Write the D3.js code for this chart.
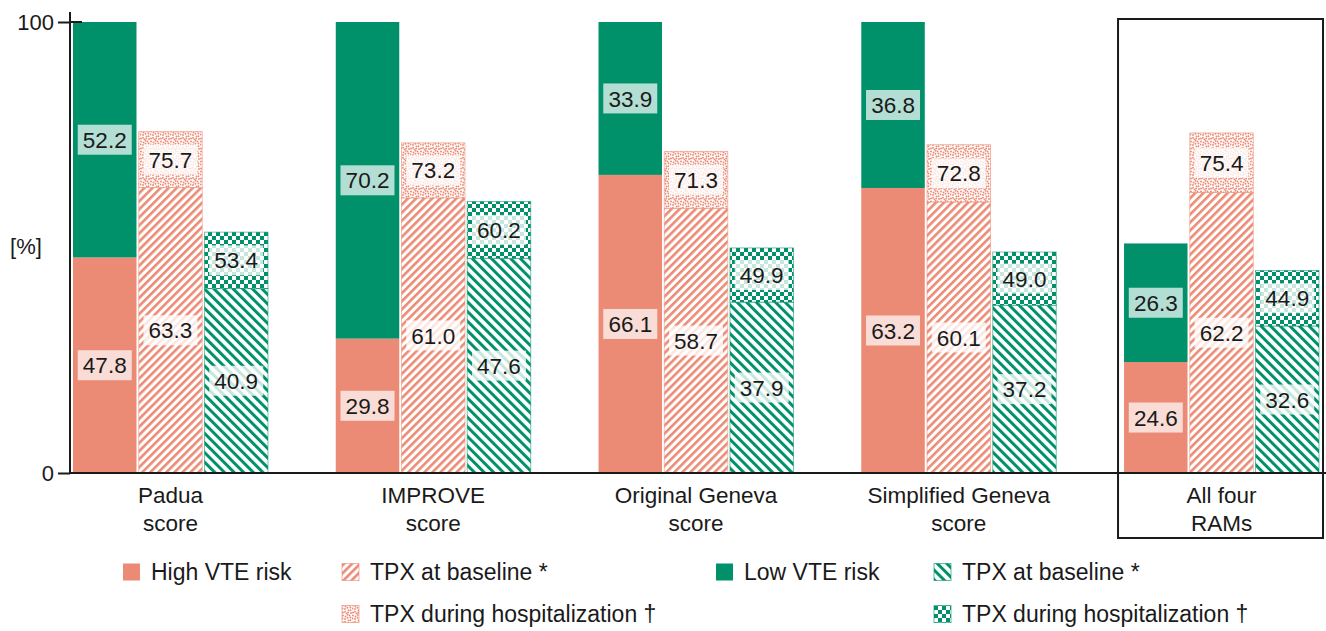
<!DOCTYPE html>
<html>
<head>
<meta charset="utf-8">
<script src="https://cdn.jsdelivr.net/npm/d3@7"></script>
<style>
    body { margin: 0; background: #fff; }
    svg  { display: block; font-family: "Liberation Sans", Arial, sans-serif; }
</style>
</head>
<body>
<div id="chart"></div>
<script>
// Categories (risk assessment models) and their two-line axis labels
const categories = ["Padua score", "IMPROVE score", "Original Geneva score", "Simplified Geneva score", "All four RAMs"];
const categoryLines = [
    ["Padua", "score"],
    ["IMPROVE", "score"],
    ["Original Geneva", "score"],
    ["Simplified Geneva", "score"],
    ["All four", "RAMs"]
];

// Share of patients in each risk group [%]
const highRisk = [47.8, 29.8, 66.1, 63.2, 24.6];
const lowRisk  = [52.2, 70.2, 33.9, 36.8, 26.3];

// Thromboprophylaxis (TPX) in high-risk patients [%]
const highTpxBaseline = [63.3, 61.0, 58.7, 60.1, 62.2];
const highTpxHosp     = [75.7, 73.2, 71.3, 72.8, 75.4];

// Thromboprophylaxis (TPX) in low-risk patients [%]
const lowTpxBaseline = [40.9, 47.6, 37.9, 37.2, 32.6];
const lowTpxHosp     = [53.4, 60.2, 49.9, 49.0, 44.9];

const yTicks = [0, 100];

const legendRow1 = ["High VTE risk", "TPX at baseline *", "Low VTE risk", "TPX at baseline *"];
const legendRow2 = ["TPX during hospitalization \u2020", "TPX during hospitalization \u2020"];

const SALMON = "#ec8b75";
const GREEN  = "#00916b";
const INK    = "#1a1a1a";

const width = 1326, height = 631;

const svg = d3.select("#chart").append("svg")
    .attr("width", width).attr("height", height);

/* ── fill patterns ─────────────────────────────────────────── */
const defs = svg.append("defs");

function stripes(id, color, angle, period, thick) {
    const p = defs.append("pattern").attr("id", id)
        .attr("patternUnits", "userSpaceOnUse")
        .attr("width", period).attr("height", period)
        .attr("patternTransform", `rotate(${angle})`);
    p.append("rect").attr("width", period).attr("height", period).attr("fill", "#fff");
    p.append("rect").attr("width", thick).attr("height", period).attr("fill", color);
}
stripes("hatchSalmon", SALMON, 45, 5.7, 2.6);
stripes("hatchGreen", GREEN, -45, 6.8, 3);

const dots = defs.append("pattern").attr("id", "dotsSalmon")
    .attr("patternUnits", "userSpaceOnUse").attr("width", 10).attr("height", 10);
dots.append("rect").attr("width", 10).attr("height", 10).attr("fill", "#fff");
[[1, 1.5], [5.5, 0.8], [8.5, 3.5], [3, 5], [6.5, 6.5], [1, 8.5], [9, 9], [4.5, 9.5],
 [0.5, 4.5], [3.5, 2.5], [7.5, 1.5], [5.5, 3.8], [8.5, 6.2], [3, 7.8], [6.2, 8.6]]
    .forEach(([cx, cy]) => dots.append("circle")
        .attr("cx", cx).attr("cy", cy).attr("r", 0.95).attr("fill", SALMON));

const checks = defs.append("pattern").attr("id", "checkGreen")
    .attr("patternUnits", "userSpaceOnUse").attr("width", 8).attr("height", 8);
checks.append("rect").attr("width", 8).attr("height", 8).attr("fill", "#fff");
checks.append("rect").attr("width", 4).attr("height", 4).attr("fill", GREEN);
checks.append("rect").attr("x", 4).attr("y", 4).attr("width", 4).attr("height", 4).attr("fill", GREEN);

/* ── scales ────────────────────────────────────────────────── */
const y = d3.scaleLinear().domain([0, 100]).range([473, 22]);

const x = d3.scaleBand()
    .domain(categories)
    .range([73, 1319])
    .paddingInner(0.258)
    .paddingOuter(0);

const xBar = d3.scaleBand()
    .domain(["risk", "high", "low"])
    .range([0, x.bandwidth()])
    .paddingInner(0.034);

// one record per stacked segment
const segments = [];
categories.forEach((cat, i) => {
    segments.push(
        { cat, bar: "risk", y0: 0, y1: highRisk[i], value: highRisk[i], fill: SALMON, stroke: "none", solid: true },
        { cat, bar: "risk", y0: highRisk[i], y1: highRisk[i] + lowRisk[i], value: lowRisk[i], fill: GREEN, stroke: "none", solid: true },
        { cat, bar: "high", y0: 0, y1: highTpxBaseline[i], value: highTpxBaseline[i], fill: "url(#hatchSalmon)", stroke: SALMON },
        { cat, bar: "high", y0: highTpxBaseline[i], y1: highTpxHosp[i], value: highTpxHosp[i], fill: "url(#dotsSalmon)", stroke: SALMON },
        { cat, bar: "low", y0: 0, y1: lowTpxBaseline[i], value: lowTpxBaseline[i], fill: "url(#hatchGreen)", stroke: GREEN },
        { cat, bar: "low", y0: lowTpxBaseline[i], y1: lowTpxHosp[i], value: lowTpxHosp[i], fill: "url(#checkGreen)", stroke: GREEN }
    );
});

/* ── bars ──────────────────────────────────────────────────── */
svg.append("g").selectAll("rect")
    .data(segments).enter()
    .append("rect")
    .attr("x", d => x(d.cat) + xBar(d.bar))
    .attr("y", d => y(d.y1))
    .attr("width", xBar.bandwidth())
    .attr("height", d => y(d.y0) - y(d.y1))
    .attr("fill", d => d.fill)
    .attr("stroke", d => d.stroke)
    .attr("stroke-opacity", 0.55)
    .attr("stroke-width", 1);

/* ── value labels on translucent boxes ─────────────────────── */
const labels = svg.append("g").selectAll("g")
    .data(segments).enter()
    .append("g")
    .attr("transform", d =>
        `translate(${x(d.cat) + xBar(d.bar) + xBar.bandwidth() / 2},${(y(d.y0) + y(d.y1)) / 2})`);

labels.append("rect")
    .attr("x", -27).attr("y", -15)
    .attr("width", 54).attr("height", 30)
    .attr("fill", "#fff")
    .attr("opacity", d => d.solid ? 0.7 : 0.78);

labels.append("text")
    .attr("text-anchor", "middle")
    .attr("dy", "0.36em")
    .attr("fill", INK)
    .style("font-size", "22.5px")
    .text(d => d.value.toFixed(1));

/* ── axes ──────────────────────────────────────────────────── */
const yAxis = svg.append("g")
    .attr("transform", "translate(70,0)")
    .call(d3.axisLeft(y).tickValues(yTicks).tickSize(12).tickSizeOuter(0).tickPadding(4));
yAxis.select(".domain").remove();
yAxis.selectAll("line").attr("stroke", INK).attr("stroke-width", 2);
yAxis.selectAll("text").attr("fill", INK).style("font-size", "22px")
    .style("font-family", "'Liberation Sans', Arial, sans-serif");

svg.append("line")
    .attr("x1", 70).attr("x2", 70)
    .attr("y1", y(100) - 10).attr("y2", y(0) + 1)
    .attr("stroke", INK).attr("stroke-width", 2);
svg.append("line")
    .attr("x1", 70).attr("x2", 82)
    .attr("y1", y(100)).attr("y2", y(100))
    .attr("stroke", INK).attr("stroke-width", 2);
svg.append("line")
    .attr("x1", 69).attr("x2", width)
    .attr("y1", y(0)).attr("y2", y(0))
    .attr("stroke", INK).attr("stroke-width", 2);

svg.append("text")
    .attr("x", 26).attr("y", 246)
    .attr("text-anchor", "middle").attr("dy", "0.36em")
    .attr("fill", INK).style("font-size", "22px")
    .text("[%]");

// category labels
const catText = svg.append("g").selectAll("text")
    .data(categories).enter()
    .append("text")
    .attr("text-anchor", "middle")
    .attr("fill", INK)
    .style("font-size", "22.5px")
    .attr("transform", d => `translate(${x(d) + x.bandwidth() / 2},503)`);
catText.selectAll("tspan")
    .data((d, i) => categoryLines[i]).enter()
    .append("tspan")
    .attr("x", 0)
    .attr("dy", (d, j) => j === 0 ? 0 : 28)
    .text(d => d);

// frame around the pooled group
const pooled = categories[categories.length - 1];
svg.append("rect")
    .attr("x", x(pooled) - 6).attr("y", 19)
    .attr("width", x.bandwidth() + 10).attr("height", 519)
    .attr("fill", "none").attr("stroke", INK).attr("stroke-width", 2);

/* ── legend ────────────────────────────────────────────────── */
const legendItems = [
    { label: legendRow1[0], fill: SALMON, stroke: "none", x: 123, y: 572 },
    { label: legendRow1[1], fill: "url(#hatchSalmon)", stroke: SALMON, x: 342, y: 572 },
    { label: legendRow2[0], fill: "url(#dotsSalmon)", stroke: SALMON, x: 342, y: 614 },
    { label: legendRow1[2], fill: GREEN, stroke: "none", x: 716, y: 572 },
    { label: legendRow1[3], fill: "url(#hatchGreen)", stroke: GREEN, x: 934, y: 572 },
    { label: legendRow2[1], fill: "url(#checkGreen)", stroke: GREEN, x: 934, y: 614 }
];

const leg = svg.append("g").selectAll("g")
    .data(legendItems).enter()
    .append("g")
    .attr("transform", d => `translate(${d.x},${d.y})`);

leg.append("rect")
    .attr("x", 0).attr("y", -8.5)
    .attr("width", 17).attr("height", 17)
    .attr("fill", d => d.fill)
    .attr("stroke", d => d.stroke).attr("stroke-opacity", 0.6);

leg.append("text")
    .attr("x", 28).attr("dy", "0.36em")
    .attr("fill", INK)
    .style("font-size", "23px")
    .text(d => d.label);
</script>
</body>
</html>
